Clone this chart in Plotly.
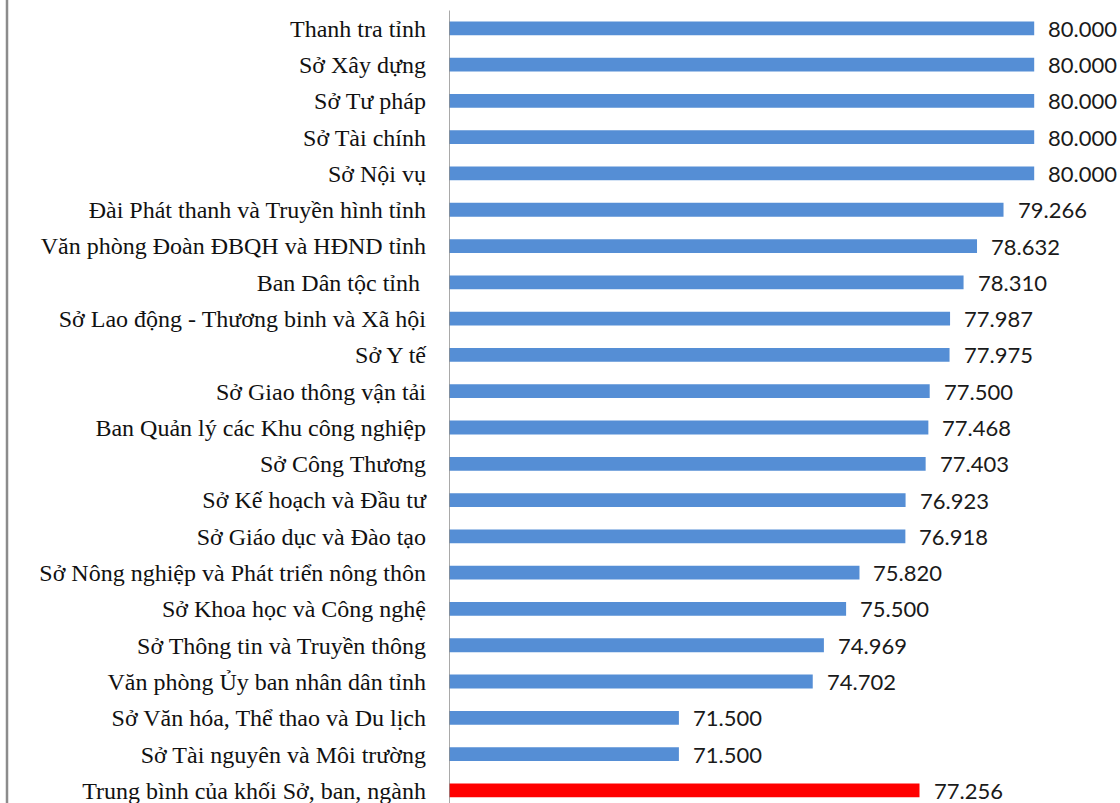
import plotly.graph_objects as go

categories = [
    "Thanh tra tỉnh",
    "Sở Xây dựng",
    "Sở Tư pháp",
    "Sở Tài chính",
    "Sở Nội vụ",
    "Đài Phát thanh và Truyền hình tỉnh",
    "Văn phòng Đoàn ĐBQH và HĐND tỉnh",
    "Ban Dân tộc tỉnh\u00a0",
    "Sở Lao động - Thương binh và Xã hội",
    "Sở Y tế",
    "Sở Giao thông vận tải",
    "Ban Quản lý các Khu công nghiệp",
    "Sở Công Thương",
    "Sở Kế hoạch và Đầu tư",
    "Sở Giáo dục và Đào tạo",
    "Sở Nông nghiệp và Phát triển nông thôn",
    "Sở Khoa học và Công nghệ",
    "Sở Thông tin và Truyền thông",
    "Văn phòng Ủy ban nhân dân tỉnh",
    "Sở Văn hóa, Thể thao và Du lịch",
    "Sở Tài nguyên và Môi trường",
    "Trung bình của khối Sở, ban, ngành",
]
values = [80.000, 80.000, 80.000, 80.000, 80.000, 79.266, 78.632, 78.310,
          77.987, 77.975, 77.500, 77.468, 77.403, 76.923, 76.918, 75.820,
          75.500, 74.969, 74.702, 71.500, 71.500, 77.256]
average_label = "Trung bình của khối Sở, ban, ngành"

BLUE = "#558ED5"
RED = "#FF0000"
colors = [RED if c == average_label else BLUE for c in categories]

W, H = 1120, 803
x_left_px = 449
px_per_unit = 41.8
x_min = 66.0
x_max = x_min + (W - x_left_px) / px_per_unit

n = len(categories)
first_c, step = 28.3, 36.29
y_top = -first_c / step
y_bot = (H - first_c) / step

fig = go.Figure()
fig.add_trace(go.Bar(
    y=categories, x=values, orientation="h",
    marker=dict(color=colors, line=dict(width=0)),
    width=0.38, hoverinfo="x+y",
))

for c, v in zip(categories, values):
    fig.add_annotation(
        x=v, y=c, xref="x", yref="y", text=f"{v:.3f}",
        showarrow=False, xanchor="left", yanchor="middle", xshift=12,
        font=dict(family="Lato, 'Open Sans', sans-serif", size=22, color="#1a1a1a"),
    )

# vertical axis line starting just above first band
fig.add_shape(type="line", xref="x", yref="y", x0=x_min, x1=x_min,
              y0=-0.49, y1=n + 1, line=dict(color="#8c8c8c", width=1.5))
# left frame border
fig.add_shape(type="line", xref="paper", yref="paper", x0=7 / W, x1=7 / W,
              y0=0, y1=1, line=dict(color="#8c8c8c", width=2.5))

fig.update_layout(
    width=W, height=H,
    margin=dict(l=0, r=0, t=0, b=0),
    paper_bgcolor="white", plot_bgcolor="white",
    showlegend=False,
    bargap=0.62,
    xaxis=dict(range=[x_min, x_max], domain=[x_left_px / W, 1],
               showgrid=False, zeroline=False, showline=False,
               showticklabels=False, ticks=""),
    yaxis=dict(type="category", categoryorder="array", categoryarray=categories,
               range=[y_bot, y_top], autorange=False,
               showgrid=False, zeroline=False, showline=False, ticks="",
               ticklabelstandoff=22,
               tickfont=dict(family="'Liberation Serif', 'Times New Roman', serif",
                             size=24, color="#111111")),
)

fig.write_html("out.html")
